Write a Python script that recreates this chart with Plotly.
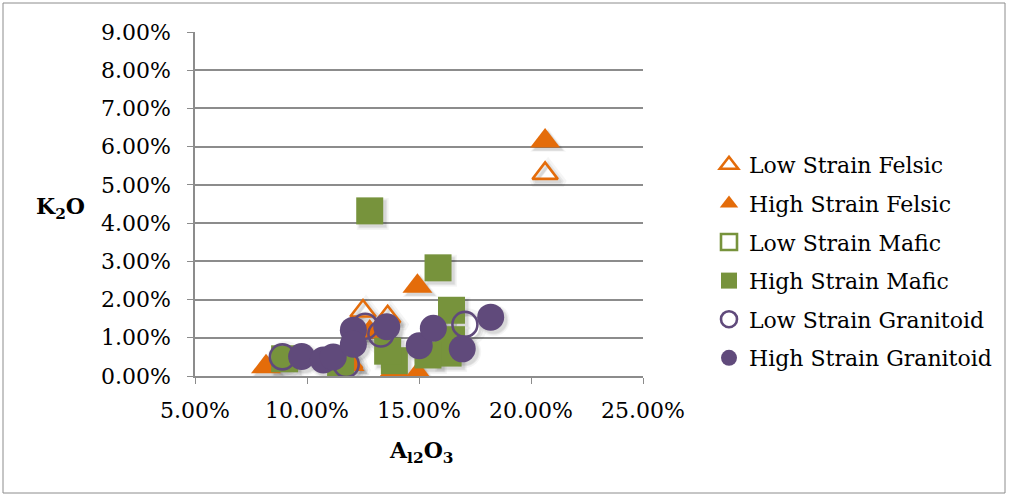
import plotly.graph_objects as go

# Al2O3 (x) and K2O (y) contents, in percent
low_felsic_al = [20.63, 12.5, 13.6, 11.9]
low_felsic_k = [5.3, 1.7, 1.55, 0.35]

high_felsic_al = [20.63, 14.93, 8.17, 13.9, 14.95, 12.8, 11.9]
high_felsic_k = [6.15, 2.35, 0.24, 0.15, 0.05, 1.15, 0.3]

low_mafic_al = []
low_mafic_k = []

high_mafic_al = [12.8, 15.85, 16.45, 16.45, 16.3, 15.4, 13.9, 13.6, 11.5, 9.0]
high_mafic_k = [4.32, 2.83, 1.72, 0.95, 0.6, 0.55, 0.4, 0.65, 0.3, 0.45]

low_gran_al = [8.9, 11.75, 12.6, 13.3, 17.05]
low_gran_k = [0.5, 0.3, 1.3, 1.1, 1.35]

high_gran_al = [9.76, 10.73, 11.17, 12.07, 12.07, 13.56, 15.01, 15.64, 16.93, 18.2]
high_gran_k = [0.51, 0.42, 0.5, 1.2, 0.83, 1.29, 0.79, 1.25, 0.71, 1.54]

x_ticks = [5, 10, 15, 20, 25]
y_ticks = [0, 1, 2, 3, 4, 5, 6, 7, 8, 9]

ORANGE = "#E46C0A"
GREEN = "#77933C"
PURPLE = "#604A7B"
GRID = "#8C8C8C"
FONT = "DejaVu Serif"

W, H = 1009, 496
L, R, T, B = 195, 643, 32, 376
X_RANGE = [5, 25]
Y_RANGE = [0, 9]

series = [
    ("Low Strain Felsic", low_felsic_al, low_felsic_k, "triangle-up-open", ORANGE, 22),
    ("High Strain Felsic", high_felsic_al, high_felsic_k, "triangle-up", ORANGE, 26),
    ("Low Strain Mafic", low_mafic_al, low_mafic_k, "square-open", GREEN, 24),
    ("High Strain Mafic", high_mafic_al, high_mafic_k, "square", GREEN, 27),
    ("Low Strain Granitoid", low_gran_al, low_gran_k, "circle-open", PURPLE, 25),
    ("High Strain Granitoid", high_gran_al, high_gran_k, "circle", PURPLE, 27),
]

fig = go.Figure()

# soft drop shadows on the base axis pair, whose ranges are nudged a few pixels
SHADOW_PX = 3
x_per_px = (X_RANGE[1] - X_RANGE[0]) / (R - L)
y_per_px = (Y_RANGE[1] - Y_RANGE[0]) / (B - T)
for name, xs, ys, sym, col, size in series:
    if not xs:
        continue
    is_open = sym.endswith("open")
    for grow, alpha in ((5, 0.04), (2, 0.06), (0, 0.06)):
        fig.add_trace(go.Scatter(
            x=xs, y=ys, mode="markers", xaxis="x", yaxis="y",
            showlegend=False, hoverinfo="skip",
            marker=dict(
                symbol=sym, size=size + grow,
                color=f"rgba(0,0,0,{alpha})",
                line=dict(color=f"rgba(0,0,0,{alpha})", width=(2.6 + grow) if is_open else 0),
            ),
        ))

# the markers themselves, on the overlaid x2/y2 pair which carries the visible scales
for i, (name, xs, ys, sym, col, size) in enumerate(series):
    is_open = sym.endswith("open")
    fig.add_trace(go.Scatter(
        x=xs if xs else [None],
        y=ys if ys else [None],
        mode="markers",
        name=name,
        legendgroup=f"g{i}",
        xaxis="x2", yaxis="y2",
        marker=dict(
            symbol=sym,
            size=size,
            color=col,
            line=dict(color=col, width=2.6 if is_open else 0),
        ),
    ))

fig.update_layout(
    xaxis=dict(
        range=[X_RANGE[0] - SHADOW_PX * x_per_px, X_RANGE[1] - SHADOW_PX * x_per_px],
        fixedrange=True, showgrid=False, zeroline=False, showline=False,
        showticklabels=False, ticks="",
    ),
    yaxis=dict(
        range=[Y_RANGE[0] + SHADOW_PX * y_per_px, Y_RANGE[1] + SHADOW_PX * y_per_px],
        fixedrange=True, showgrid=False, zeroline=False, showline=False,
        showticklabels=False, ticks="",
    ),
    xaxis2=dict(
        overlaying="x",
        side="bottom",
        range=X_RANGE,
        tickvals=x_ticks,
        ticktext=[f"{v:.2f}%" for v in x_ticks],
        showgrid=False,
        zeroline=False,
        showline=True,
        linecolor=GRID,
        linewidth=1.5,
        ticks="outside",
        ticklen=6,
        tickcolor=GRID,
        tickfont=dict(family=FONT, size=22, color="#000"),
        ticklabelstandoff=8,
    ),
    yaxis2=dict(
        overlaying="y",
        side="left",
        range=Y_RANGE,
        tickvals=y_ticks,
        ticktext=[f"{v:.2f}%" for v in y_ticks],
        showgrid=True,
        gridcolor=GRID,
        gridwidth=1.5,
        zeroline=False,
        showline=True,
        linecolor=GRID,
        linewidth=1.5,
        ticks="outside",
        ticklen=6,
        tickcolor=GRID,
        tickfont=dict(family=FONT, size=22, color="#000"),
        ticklabelstandoff=12,
    ),
)

fig.add_annotation(
    text="<b>K<sub>2</sub>O</b>",
    xref="paper", yref="paper",
    x=(60 - L) / (R - L), y=(B - 208) / (B - T),
    showarrow=False, xanchor="center", yanchor="middle",
    font=dict(family=FONT, size=22, color="#000"),
)
fig.add_annotation(
    text="<b>A<sub>l2</sub>O<sub>3</sub></b>",
    xref="paper", yref="paper",
    x=(421 - L) / (R - L), y=(B - 452) / (B - T),
    showarrow=False, xanchor="center", yanchor="middle",
    font=dict(family=FONT, size=22, color="#000"),
)

# outer chart frame
fig.add_shape(
    type="rect", xref="paper", yref="paper",
    x0=(3 - L) / (R - L), x1=(1005 - L) / (R - L),
    y0=(B - 493) / (B - T), y1=(B - 3) / (B - T),
    line=dict(color=GRID, width=1), fillcolor="rgba(0,0,0,0)", layer="below",
)

fig.update_layout(
    width=W, height=H,
    margin=dict(l=L, r=W - R, t=T, b=H - B),
    paper_bgcolor="white",
    plot_bgcolor="white",
    showlegend=True,
    legend=dict(
        xref="container", yref="container",
        x=709 / W, y=1 - 144 / H,
        xanchor="left", yanchor="top",
        font=dict(family=FONT, size=22, color="#000"),
        tracegroupgap=7,
        bgcolor="rgba(0,0,0,0)",
    ),
)

fig.write_html("out.html")
